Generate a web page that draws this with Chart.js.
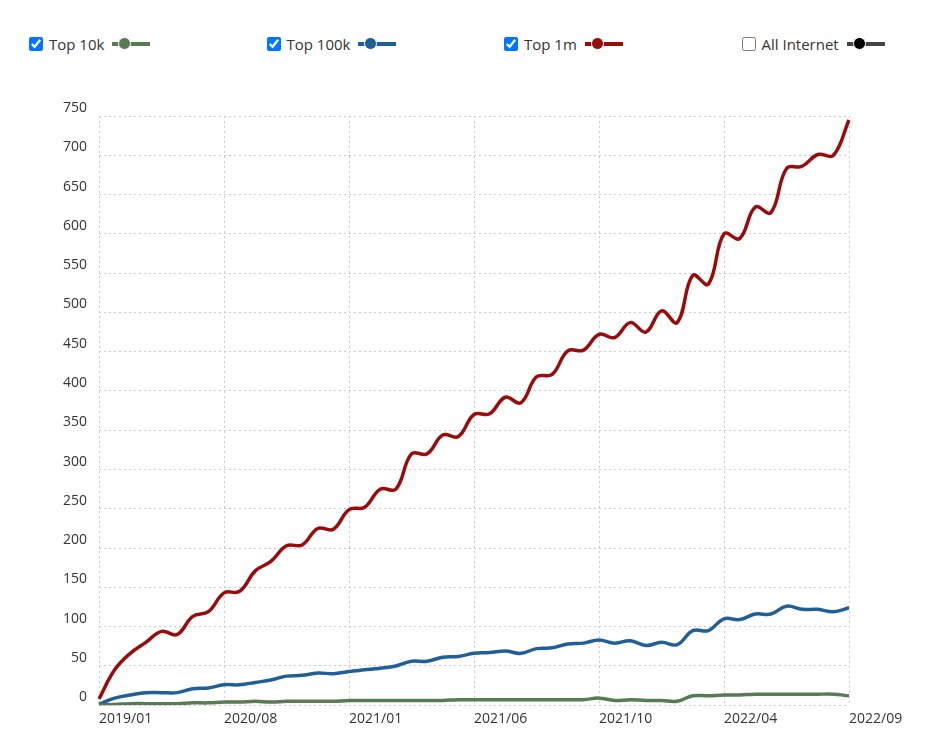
<!DOCTYPE html>
<html>
<head>
<meta charset="utf-8">
<script src="https://cdn.jsdelivr.net/npm/chart.js@4.4.1/dist/chart.umd.min.js"></script>
<style>
    html, body { margin: 0; padding: 0; background: #fff; }
    body { width: 933px; height: 741px; position: relative; overflow: hidden; font-family: "Open Sans", sans-serif; }
    #chart-wrap { position: absolute; left: 0; top: 0; width: 933px; height: 741px; }
    .legend { position: absolute; top: 34px; left: 0; width: 933px; height: 24px; }
    .legend-item { position: absolute; top: 0; display: flex; align-items: center; font-size: 15px; color: #333; }
    .legend-item input { margin: 0 6px 0 0; width: 14px; height: 14px; }
    .icon { position: relative; width: 38px; height: 12px; margin-left: 8px; }
    .icon .ln { position: absolute; left: 0; right: 0; top: 4px; height: 4px; }
    .icon .dot { position: absolute; left: 6px; top: -1px; width: 11px; height: 11px; border-radius: 50%; border: 1.5px solid #fff; }
</style>
</head>
<body>
<div class="legend" id="legend"></div>
<div id="chart-wrap"><canvas id="grafico"></canvas></div>
<script>
    // --- Dados ---
    const tickLabels = ['2019/01', '2020/08', '2021/01', '2021/06', '2021/10', '2022/04', '2022/09'];
    const pointsPerTick = 8;

    const top10k = [0, 1, 2, 2, 2, 2, 3, 3, 4, 4, 5, 4, 5, 5, 5, 5, 6, 6, 6, 6, 6, 6, 6, 7, 7,
        7, 7, 7, 7, 7, 7, 7, 9, 6, 7, 6, 6, 5, 12, 12, 13, 13, 14, 14, 14, 14, 14, 14, 12];
    const top100k = [1, 9, 13, 16, 16, 16, 21, 22, 26, 26, 29, 32, 37, 38, 41, 40, 43, 45, 47, 50, 56, 56, 61, 62, 66,
        67, 69, 66, 72, 73, 78, 79, 83, 79, 82, 76, 80, 77, 95, 95, 110, 109, 116, 116, 126, 122, 122, 119, 124];
    const top1m = [8, 45, 66, 80, 94, 90, 113, 119, 143, 145, 171, 183, 203, 204, 225, 224, 249, 252, 275, 275, 320, 320, 344, 342, 370,
        371, 392, 385, 418, 421, 451, 452, 472, 468, 487, 475, 502, 487, 547, 536, 600, 594, 634, 627, 683, 686, 701, 700, 745];

    const series = [
        { label: 'Top 10k', data: top10k, color: '#587b54', checked: true },
        { label: 'Top 100k', data: top100k, color: '#215f98', checked: true },
        { label: 'Top 1m', data: top1m, color: '#990c0c', checked: true },
        { label: 'All Internet', data: null, color: '#000', line: '#444', checked: false }
    ];

    // rótulos do eixo x: só a cada 8 pontos
    const labels = top1m.map((_, i) => i % pointsPerTick === 0 ? tickLabels[i / pointsPerTick] : '');

    // --- Legenda HTML ---
    const legend = document.getElementById('legend');
    series.forEach((s, i) => {
        const item = document.createElement('div');
        item.className = 'legend-item';
        item.style.left = (29 + i * 237.5) + 'px';
        item.innerHTML = `<input type="checkbox" ${s.checked ? 'checked' : ''}><span>${s.label}</span>` +
            `<span class="icon"><span class="ln" style="background:${s.line || s.color}"></span>` +
            `<span class="dot" style="background:${s.color}"></span></span>`;
        legend.appendChild(item);
    });

    // --- Gráfico ---
    const gridColor = '#cacaca';
    const tickFont = { family: '"Open Sans", sans-serif', size: 14 };

    new Chart(document.getElementById('grafico').getContext('2d'), {
        type: 'line',
        data: {
            labels,
            datasets: series.filter(s => s.data).map(s => ({
                label: s.label,
                data: s.data,
                borderColor: s.color,
                backgroundColor: s.color,
                borderWidth: 3.5,
                pointRadius: 0,
                tension: 0.4,
                fill: false
            }))
        },
        options: {
            responsive: true,
            maintainAspectRatio: false,
            animation: false,
            layout: { padding: { left: 51, right: 84, top: 116, bottom: 9 } },
            plugins: { legend: { display: false }, tooltip: { enabled: false } },
            scales: {
                x: {
                    grid: { color: gridColor, drawTicks: false },
                    border: { display: false, dash: [2, 3] },
                    ticks: {
                        autoSkip: false,
                        maxRotation: 0,
                        align: 'start',
                        padding: 5,
                        color: '#333',
                        font: tickFont,
                        callback: (v, i) => labels[i] || null
                    }
                },
                y: {
                    min: 0,
                    max: 750,
                    grid: { color: gridColor, drawTicks: false },
                    border: { display: false, dash: [2, 3] },
                    ticks: {
                        stepSize: 50,
                        padding: 12,
                        labelOffset: -8,
                        color: '#333',
                        font: tickFont
                    }
                }
            }
        }
    });
</script>
</body>
</html>
